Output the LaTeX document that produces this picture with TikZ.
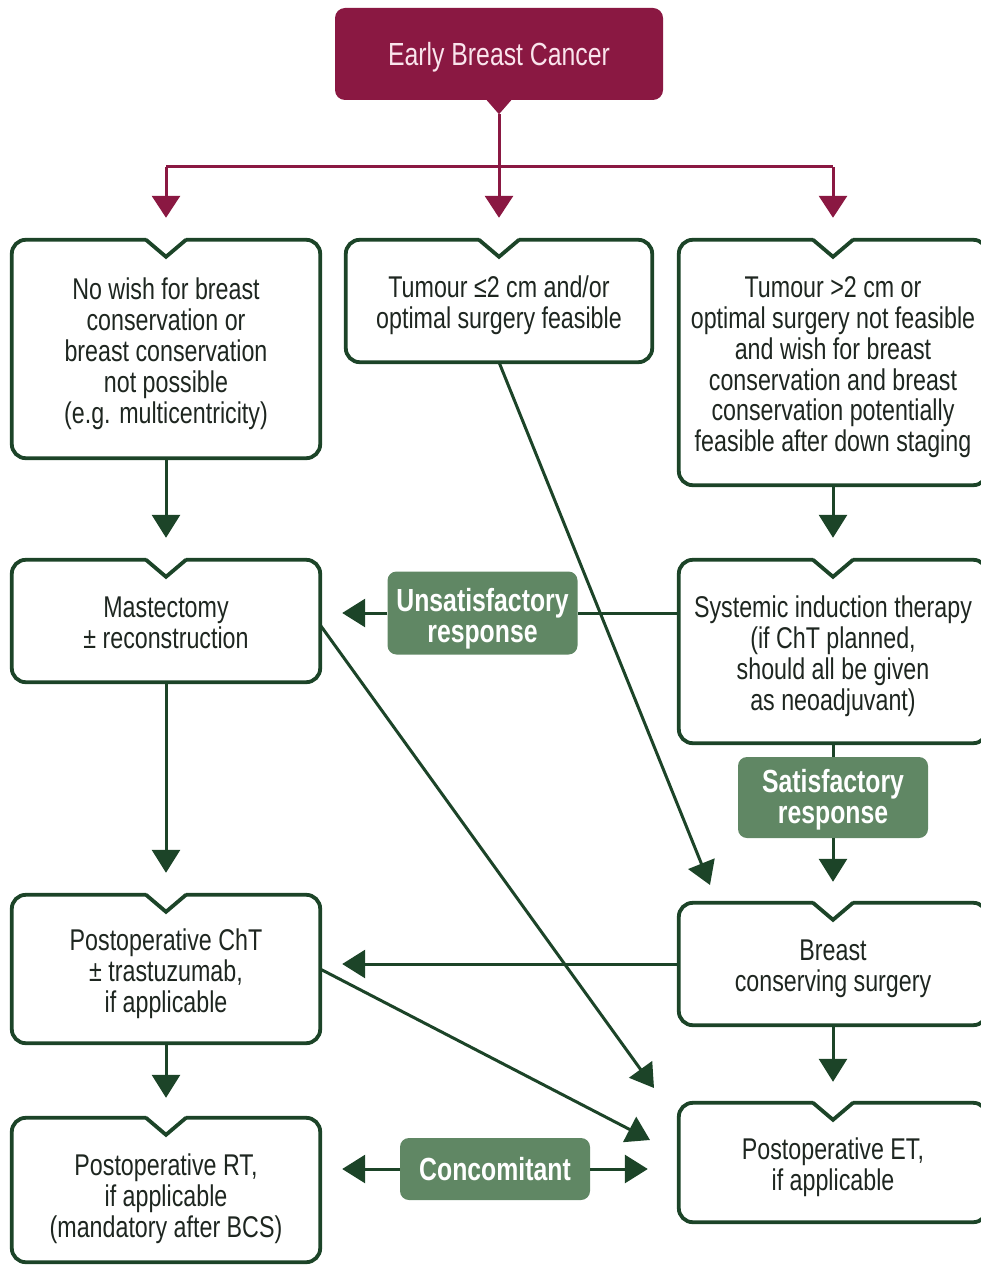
\documentclass[tikz,border=0pt]{standalone}
\usepackage{fontspec}
\setmainfont{Liberation Sans}[FakeStretch=0.775]
\usetikzlibrary{arrows.meta,calc}
\definecolor{dkgreen}{RGB}{28,68,40}
\definecolor{lblgreen}{RGB}{96,135,100}
\definecolor{crimson}{RGB}{138,24,66}
\definecolor{txt}{RGB}{30,38,32}
\definecolor{toptxt}{RGB}{250,228,236}
\newcommand\notchbox[1]{%
  \draw[boxline] ($(#1.north)+(-20,0)$) -- (#1.north west) -- (#1.south west) -- (#1.south east) -- (#1.north east) -- ($(#1.north)+(20,0)$);
  \draw[notchline] ($(#1.north)+(-20,0)$) -- ($(#1.north)+(0,17)$) -- ($(#1.north)+(20,0)$);}
\newcommand\bt[2][-6pt]{\raisebox{#1}[\height][\depth]{\begin{tabular}{@{}c@{}}#2\end{tabular}}}
\begin{document}
\begin{tikzpicture}[x=1pt,y=-1pt,
  box/.style={minimum width=308pt,inner sep=0pt,align=center,text=txt,font=\fontsize{30}{30.5}\selectfont},
  boxline/.style={draw=dkgreen,line width=3.8pt,rounded corners=14pt},
  notchline/.style={draw=dkgreen,line width=3.8pt,line cap=round,line join=miter},
  lbl/.style={fill=lblgreen,rounded corners=9pt,text=white,font=\fontsize{32}{32}\selectfont\bfseries,align=center,inner sep=0pt,minimum width=190pt},
  conn/.style={draw=dkgreen,line width=3pt,-{Triangle[length=23pt,width=28pt]}},
  cline/.style={draw=crimson,line width=3pt},
  cconn/.style={cline,-{Triangle[length=22pt,width=28pt]}}
]
\useasboundingbox (0,0) rectangle (980,1265);

% top
\node[fill=crimson,rounded corners=10pt,minimum width=328pt,minimum height=92pt,text=toptxt,font=\fontsize{32}{32}\selectfont] (top) at (499,54) {\raisebox{-3pt}[\height][\depth]{Early Breast Cancer}};
\coordinate (tab) at ($(top.south)+(0,14)$);
\fill[crimson] ($(top.south)+(-14,-2)$) -- ($(top.south)+(14,-2)$) -- (tab) -- cycle;

% boxes
\node[box,minimum height=218pt] (A1) at (166,349) {\bt{No wish for breast\\conservation or\\breast conservation\\not possible\\(e.g. multicentricity)}};
\node[box,minimum width=306pt,minimum height=122pt] (A2) at (499,301) {\bt{Tumour ≤2 cm and/or\\optimal surgery feasible}};
\node[box,minimum height=245pt] (A3) at (833,362.5) {\bt{Tumour >2 cm or\\optimal surgery not feasible\\and wish for breast\\conservation and breast\\conservation potentially\\feasible after down staging}};
\node[box,minimum height=122pt] (B1) at (166,621) {\bt{Mastectomy\\± reconstruction}};
\node[box,minimum height=183pt] (B3) at (833,651.5) {\bt{Systemic induction therapy\\(if ChT planned,\\should all be given\\as neoadjuvant)}};
\node[box,minimum height=148pt] (C1) at (166,969) {\bt{Postoperative ChT\\± trastuzumab,\\if applicable}};
\node[box,minimum height=122pt] (C3) at (833,964) {\bt{Breast\\conserving surgery}};
\node[box,minimum height=144pt] (D1) at (166,1190) {\bt[-10pt]{Postoperative RT,\\if applicable\\(mandatory after BCS)}};
\node[box,minimum height=119pt] (D3) at (833,1162.5) {\bt{Postoperative ET,\\if applicable}};

\foreach \n in {A1,A2,A3,B1,B3,C1,C3,D1,D3} {\notchbox{\n}}

% crimson connectors
\coordinate (hl) at (499,167);
\draw[cline] (hl -| A1.north) -- (hl -| A3.north);
\draw[cconn,shorten >=22pt] (tab) -- (A2.north);
\draw[cconn,shorten >=22pt] (hl -| A1.north) -- (A1.north);
\draw[cconn,shorten >=22pt] (hl -| A3.north) -- (A3.north);

% labels
\node[lbl,minimum height=83pt] (U) at (482.5,613) {\bt[-7pt]{Unsatisfactory\\[-1pt]response}};
\node[lbl,minimum height=81pt] (S) at (833,797.5) {\bt[-4pt]{Satisfactory\\[-1pt]response}};
\node[lbl,minimum height=62pt] (K) at (495,1169) {Concomitant};

% coordinates for diagonal tips
\coordinate (t1) at (710,885);
\coordinate (t2) at (654,1088);
\coordinate (t3) at (650,1140);

% green connectors
\draw[conn,shorten >=22pt] (A1.south) -- (B1.north);
\draw[conn,shorten >=22pt] (A3.south) -- (B3.north);
\draw[dkgreen,line width=3pt] (B3.west |- U.east) -- (U.east);
\draw[conn,shorten >=22pt] (U.west) -- (B1.east |- U.west);
\draw[dkgreen,line width=3pt] (B3.south) -- (S.north);
\draw[conn,shorten >=21pt] (S.south) -- (C3.north);
\draw[conn,shorten >=22pt] (B1.south) -- (C1.north);
\draw[conn,shorten >=22pt] (C3.west) -- (C1.east |- C3.west);
\draw[conn,shorten >=20pt] (C1.south) -- (D1.north);
\draw[conn,shorten >=21pt] (C3.south) -- (D3.north);
\draw[conn,shorten >=22pt] (K.west) -- (D1.east |- K.west);
\draw[conn,shorten >=31pt] (K.east) -- (D3.west |- K.east);
\draw[conn] (A2.south) -- (t1);
\draw[conn] ($(B1.east)+(0,4)$) -- (t2);
\draw[conn] (C1.east) -- (t3);
\end{tikzpicture}
\end{document}
